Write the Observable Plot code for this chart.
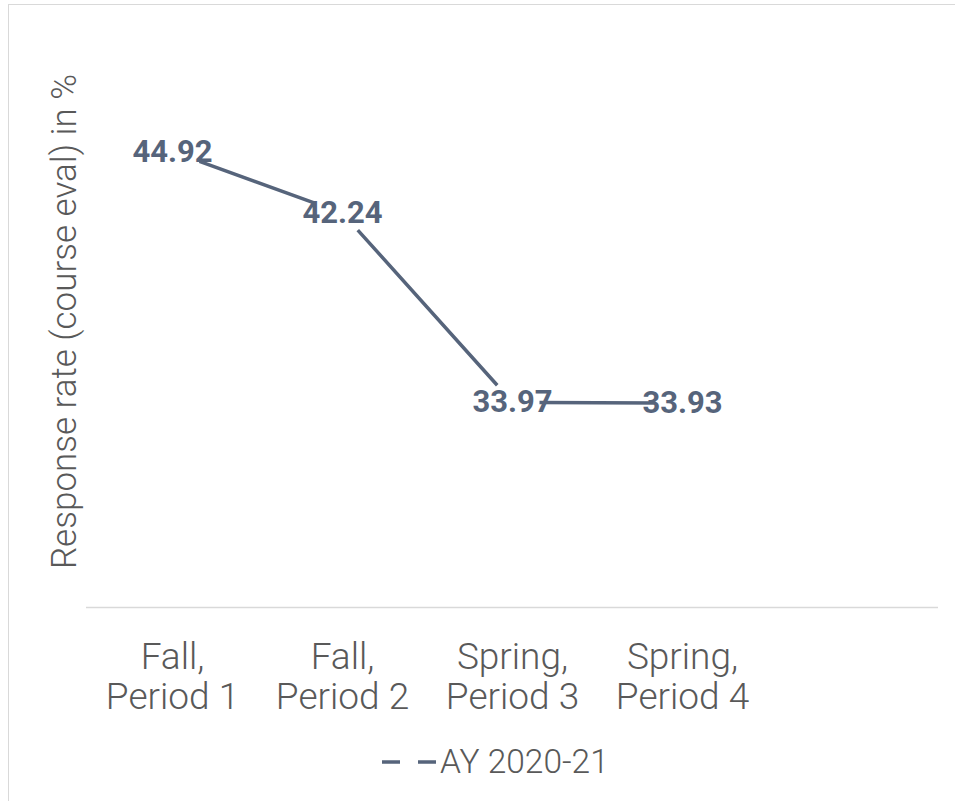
<!DOCTYPE html>
<html>
<head>
<meta charset="utf-8">
<script src="https://cdn.jsdelivr.net/npm/d3@7"></script>
<script src="https://cdn.jsdelivr.net/npm/@observablehq/plot@0.6"></script>
<style>
  body { margin: 0; background: #fff; font-family: Roboto, "Open Sans", sans-serif; }
  #frame { position: absolute; left: 8px; top: 4px; width: 960px; height: 810px; border: 1.5px solid #d9d9d9; box-sizing: border-box; }
  #chart { position: absolute; left: 0; top: 0; }
  #legend { position: absolute; left: 380px; top: 742px; display: flex; align-items: center; font-family: Roboto, sans-serif; font-weight: 300; font-size: 33.5px; color: #595959; }
</style>
</head>
<body>
<div id="frame"></div>
<div id="chart"></div>
<div id="legend"></div>
<script>
// ---- data ----
const categories = ["Fall,\nPeriod 1", "Fall,\nPeriod 2", "Spring,\nPeriod 3", "Spring,\nPeriod 4"];
const slots = [...categories, " "]; // the category axis leaves a fifth empty slot
const values = [44.92, 42.24, 33.97, 33.93];
const seriesName = "AY 2020-21";
const yLabel = "Response rate (course eval) in %";
const yDomain = [25, 50];

const lineColor = "#56647b";
const data = categories.map((c, i) => ({cat: c, value: values[i]}));
const segments = data.slice(1).map((d, i) => ({a: data[i], b: d}));

function makePlot(dashes) {
  const segMarks = segments.map((s, i) => Plot.link([s], {
    x1: d => d.a.cat, y1: d => d.a.value,
    x2: d => d.b.cat, y2: d => d.b.value,
    stroke: lineColor, strokeWidth: 3.5,
    strokeDasharray: dashes ? dashes[i] : undefined
  }));
  return Plot.plot({
    width: 955,
    height: 730,
    marginLeft: 86,
    marginRight: 17,
    marginTop: 35,
    marginBottom: 123,
    style: {background: "transparent", overflow: "visible"},
    x: {type: "point", domain: slots, padding: 0.5, axis: null},
    y: {domain: yDomain, axis: null},
    marks: [
      Plot.ruleY([yDomain[0]], {stroke: "#d9d9d9", strokeWidth: 1.5}),
      ...segMarks,
      Plot.text(data, {
        x: "cat", y: "value", text: d => d.value.toFixed(2),
        fill: lineColor, fontWeight: "bold", fontSize: 31,
        fontFamily: "Roboto", textAnchor: "middle", lineAnchor: "middle"
      }),
      Plot.text(categories, {
        x: d => d, frameAnchor: "bottom", dy: 33, lineAnchor: "top",
        lineHeight: 1.08, text: d => d,
        fill: "#595959", fontSize: 37, fontWeight: 300, fontFamily: "Roboto"
      }),
      Plot.text([yLabel], {
        frameAnchor: "left", dx: -22, rotate: -90, text: d => d,
        fill: "#595959", fontSize: 35, fontWeight: 300, fontFamily: "Roboto",
        textAnchor: "middle", lineAnchor: "middle"
      })
    ]
  });
}

// first pass: read the scales to trim each segment where it meets the data labels
const probe = makePlot(null);
const sx = probe.scale("x"), sy = probe.scale("y");
const px = c => sx.apply(c), py = v => sy.apply(v);
const hw = 27, hh = 17;
const dashes = segments.map(s => {
  const x1 = px(s.a.cat), y1 = py(s.a.value), x2 = px(s.b.cat), y2 = py(s.b.value);
  const L = Math.hypot(x2 - x1, y2 - y1);
  const ux = Math.abs(x2 - x1) / L, uy = Math.abs(y2 - y1) / L;
  const t = Math.min(ux > 1e-6 ? hw / ux : Infinity, uy > 1e-6 ? hh / uy : Infinity);
  return `0 ${t} ${Math.max(0, L - 2 * t)} ${L + 100}`;
});

document.getElementById("chart").append(makePlot(dashes));

// legend
const lg = document.getElementById("legend");
lg.innerHTML = `<svg width="58" height="10" style="margin-right:2px"><line x1="2" x2="56" y1="5" y2="5" stroke="${lineColor}" stroke-width="3.5" stroke-dasharray="18 18"/></svg><span>${seriesName}</span>`;
</script>
</body>
</html>
